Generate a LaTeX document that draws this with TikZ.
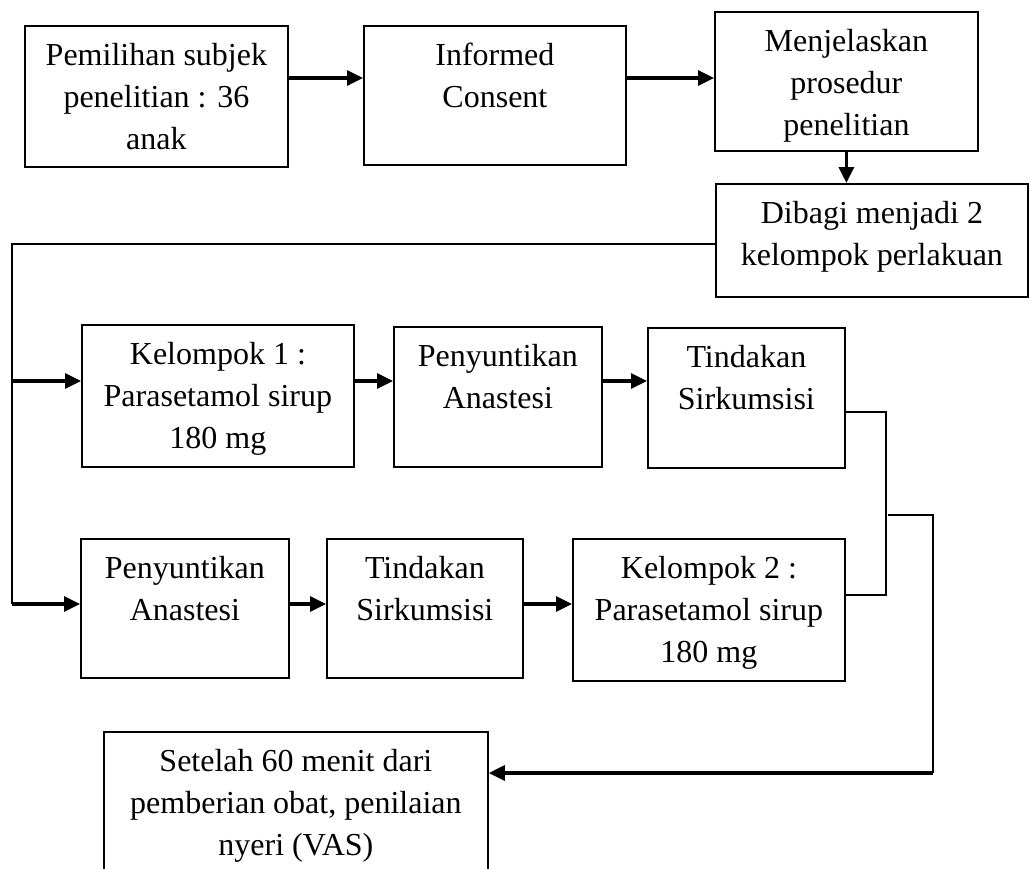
\documentclass[tikz,border=0pt]{standalone}
\usepackage{fontspec}
\setmainfont{Liberation Serif}
\usepackage{tikz}
\usetikzlibrary{arrows.meta, positioning}
\newcommand{\isi}[3]{\parbox[t][#2][t]{#1}{\centering\rule{0pt}{40pt}#3}}

\begin{document}
\begin{tikzpicture}
                [x=1pt, y=-1pt,
                kotak/.style={draw, line width=1.8pt, inner sep=0pt, anchor=north west,
                font=\fontsize{32}{42}\selectfont},
                garis/.style={line width=1.8pt},
                panah/.style={line width=3.2pt, -{Triangle[length=16pt,width=15pt]}}]
                \useasboundingbox (0,0) rectangle (1030,868);
                \node[kotak] (pilih) at (24,25) {\isi{263pt}{141pt}{Pemilihan subjek\\penelitian : 36\\anak}};
                \node[kotak] (consent) at (363,25) {\isi{262pt}{139pt}{Informed\\Consent}};
                \node[kotak] (jelas) at (714,11) {\isi{263pt}{139pt}{Menjelaskan\\prosedur\\penelitian}};
                \node[kotak] (bagi) at (715,183) {\isi{312pt}{113pt}{Dibagi menjadi 2\\kelompok perlakuan}};
                \node[kotak] (k1) at (81,324) {\isi{272pt}{142pt}{Kelompok 1 :\\Parasetamol sirup\\180 mg}};
                \node[kotak] (suntik1) at (393,326) {\isi{208pt}{140pt}{Penyuntikan\\Anastesi}};
                \node[kotak] (tindak1) at (647,327) {\isi{197pt}{140pt}{Tindakan\\Sirkumsisi}};
                \node[kotak] (suntik2) at (80,538) {\isi{208pt}{139pt}{Penyuntikan\\Anastesi}};
                \node[kotak] (tindak2) at (326,538) {\isi{196pt}{139pt}{Tindakan\\Sirkumsisi}};
                \node[kotak] (k2) at (572,538) {\isi{272pt}{142pt}{Kelompok 2 :\\Parasetamol sirup\\180 mg}};
                \node[kotak] (hasil) at (103,731) {\isi{384pt}{150pt}{Setelah 60 menit dari\\pemberian obat, penilaian\\nyeri (VAS)}};
                \coordinate (r1) at (0,78);
                \coordinate (r2) at (0,381);
                \coordinate (r3) at (0,604);
                \coordinate (r4) at (0,773);
                \coordinate (kiri) at (12,244);
                \coordinate (kanan) at (886,412);
                \coordinate (sambung) at (888,515);
                \coordinate (kanan2) at (933,515);
                \draw[panah] (pilih.east |- r1) -- (consent.west |- r1);
                \draw[panah] (consent.east |- r1) -- (jelas.west |- r1);
                \draw[panah] (jelas.south) -- (jelas.south |- bagi.north);
                \draw[garis] (bagi.west |- kiri) -- (kiri) -- (kiri |- r3);
                \draw[panah] (kiri |- r2) -- (k1.west |- r2);
                \draw[panah] (k1.east |- r2) -- (suntik1.west |- r2);
                \draw[panah] (suntik1.east |- r2) -- (tindak1.west |- r2);
                \draw[panah] (kiri |- r3) -- (suntik2.west |- r3);
                \draw[panah] (suntik2.east |- r3) -- (tindak2.west |- r3);
                \draw[panah] (tindak2.east |- r3) -- (k2.west |- r3);
                \draw[garis] (tindak1.east |- kanan) -- (kanan) -- (kanan |- 0,595) -- (k2.east |- 0,595);
                \draw[garis] (sambung) -- (kanan2) -- (kanan2 |- r4);
                \draw[panah] (kanan2 |- r4) -- (hasil.east |- r4);
            \end{tikzpicture}
\end{document}
